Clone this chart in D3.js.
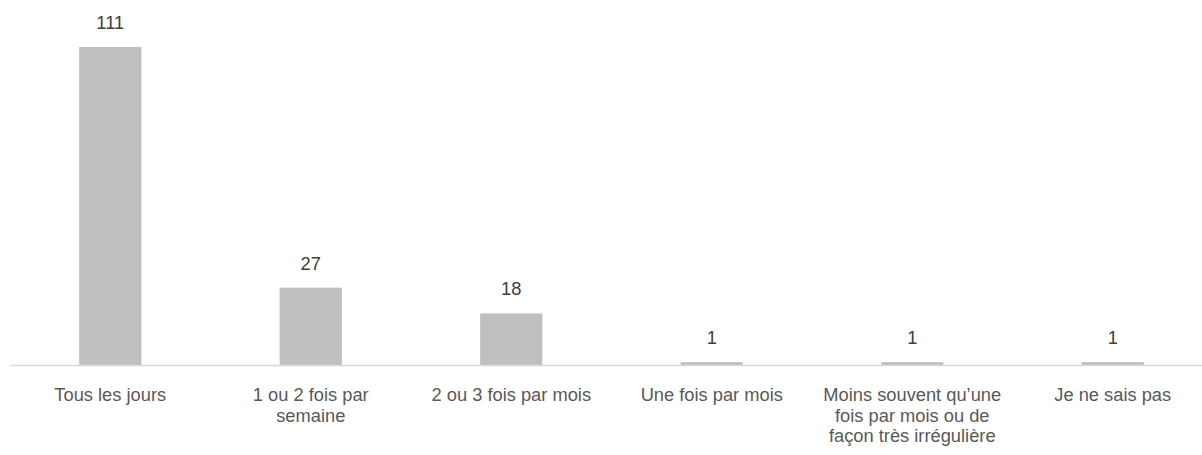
<!DOCTYPE html>
<html>
<head>
<meta charset="utf-8">
<script src="https://cdn.jsdelivr.net/npm/d3@7"></script>
<style>
  body { margin: 0; background: #fff; }
  svg { display: block; }
  .lbl { font-family: "Liberation Sans", Arial, sans-serif; font-size: 18.3px; fill: #595959; }
  .val { font-family: "Liberation Sans", Arial, sans-serif; font-size: 18.3px; fill: #404040; }
</style>
</head>
<body>
<svg></svg>
<script>
var categories = [
  "Tous les jours",
  "1 ou 2 fois par semaine",
  "2 ou 3 fois par mois",
  "Une fois par mois",
  "Moins souvent qu\u2019une fois par mois ou de fa\u00e7on tr\u00e8s irr\u00e9guli\u00e8re",
  "Je ne sais pas"
]
var counts = [111, 27, 18, 1, 1, 1]

var width = 1202
var height = 455
var baseline = 365
var top0 = 47

var svg = d3.select("svg")
    .attr("width", width)
    .attr("height", height)

var xScale = d3.scaleBand()
    .domain(categories)
    .range([10, 1213])
    .paddingInner(0.69)
    .paddingOuter(0.345)

var yScale = d3.scaleLinear()
    .domain([0, d3.max(counts)])
    .range([baseline, top0])

var data = categories.map((c, i) => ({cat: c, n: counts[i]}))

// barres
svg.selectAll(".bar")
  .data(data)
  .enter().append("rect")
  .attr("class", "bar")
  .attr("x", d => xScale(d.cat))
  .attr("y", d => yScale(d.n))
  .attr("width", xScale.bandwidth())
  .attr("height", d => baseline - yScale(d.n))
  .style("fill", "#bfbfbf")

// étiquettes de valeur
svg.selectAll(".val")
  .data(data)
  .enter().append("text")
  .attr("class", "val")
  .attr("x", d => xScale(d.cat) + xScale.bandwidth() / 2)
  .attr("y", d => yScale(d.n) - 18)
  .attr("text-anchor", "middle")
  .text(d => d.n)

// axe x
var xAxis = d3.axisBottom(xScale).tickSize(0).tickSizeOuter(0).tickPadding(0)
var gx = svg.append("g")
   .attr("transform", `translate(0,${baseline})`)
   .call(xAxis)
gx.select(".domain").attr("stroke", "#d9d9d9").attr("stroke-width", 1.5)
gx.selectAll(".tick text")
  .attr("class", "lbl")
  .attr("fill", null)
  .attr("font-size", null)
  .attr("font-family", null)
  .attr("y", 36)
  .attr("dy", 0)
  .call(wrap, 188)

function wrap(sel, w) {
  sel.each(function() {
    var t = d3.select(this)
    var words = t.text().split(/\s+/)
    var line = []
    var lineNo = 0
    var y = t.attr("y")
    t.text(null)
    var tspan = t.append("tspan").attr("x", 0).attr("y", y)
    words.forEach(word => {
      line.push(word)
      tspan.text(line.join(" "))
      if (tspan.node().getComputedTextLength() > w && line.length > 1) {
        line.pop()
        tspan.text(line.join(" "))
        line = [word]
        lineNo++
        tspan = t.append("tspan").attr("x", 0).attr("y", +y + lineNo * 20.6).text(word)
      }
    })
  })
}
</script>
</body>
</html>
